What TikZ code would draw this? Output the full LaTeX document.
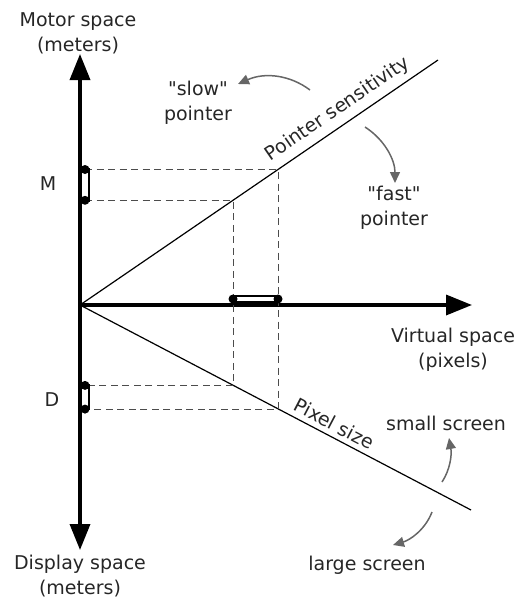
\documentclass[tikz,border=0pt]{standalone}
\usepackage{fontspec}
\setmainfont{DejaVu Sans}
\usetikzlibrary{arrows.meta}

\begin{document}
\begin{tikzpicture}[
  x=1pt, y=-1pt,
  axis/.style={line width=3.5pt, -{Triangle[width=20pt,length=26pt]}},
  dline/.style={dashed, line width=1pt, dash pattern=on 7pt off 4.5pt, black!70},
  bar/.style={line width=2.5pt, fill=white},
  dot/.style={circle, fill=black, inner sep=0pt, minimum size=9pt},
  turnarrow/.style={line width=1.5pt, black!60, -{Triangle[width=10pt,length=11pt]}},
  lbl/.style={font=\fontsize{19}{25}\selectfont, align=center, inner sep=0pt, text=black!85},
]
\useasboundingbox (0,0) rectangle (521,602);

% Axes
\coordinate (O) at (80,305);
\coordinate (top) at (80,54);
\coordinate (bot) at (80,550);
\coordinate (rgt) at (472,305);
\draw[axis] (O) -- (top);
\draw[axis] (O) -- (bot);
\draw[axis] (O) -- (rgt);

% Transfer lines
\coordinate (ps) at (438,60);
\coordinate (px) at (471,510);
\draw[line width=1.2pt] (O) -- node[pos=0.745, sloped, above=6pt, lbl] {Pointer sensitivity} (ps);
\draw[line width=1.2pt] (O) -- node[pos=0.635, sloped, above=5pt, lbl] {Pixel size} (px);

% Projections
\coordinate (s1) at (233,200.3);
\coordinate (s2) at (278,169.5);
\coordinate (p1) at (233,385.4);
\coordinate (p2) at (278,409.1);
\draw[dline] (85,169.5) -- (s2) -- (p2) -- (85,409.1);
\draw[dline] (85,200.3) -- (s1) -- (p1) -- (85,385.4);

% Bars
\draw[bar] (81,169.5) rectangle (89,200.3);
\node[dot] (m1) at (85,169.5) {};
\node[dot] (m2) at (85,200.3) {};
\draw[bar] (233,296) rectangle (278,302);
\node[dot] (v1) at (233,299) {};
\node[dot] (v2) at (278,299) {};
\draw[bar] (81,385.4) rectangle (89,409.1);
\node[dot] (d1) at (85,385.4) {};
\node[dot] (d2) at (85,409.1) {};

% Labels
\node[lbl] (motor) at (78,33) {Motor space\\(meters)};
\node[lbl] (disp) at (80,576) {Display space\\(meters)};
\node[lbl] (M) at (48,184) {M};
\node[lbl] (D) at (52,400) {D};
\node[lbl] (slow) at (198,103) {\textquotedbl slow\textquotedbl\\pointer};
\node[lbl] (fast) at (394,208) {\textquotedbl fast\textquotedbl\\pointer};
\node[lbl] (virt) at (453,350) {Virtual space\\(pixels)};
\node[lbl] (small) at (446,423) {small screen};
\node[lbl] (large) at (367,565) {large screen};

% Curved arrows
\coordinate (sa) at (310,90);
\coordinate (fa) at (365,127);
\coordinate (ssa) at (442,482);
\coordinate (lsa) at (432,512);
\draw[turnarrow] (sa) .. controls (290,75) and (265,72) .. (238,84);
\draw[turnarrow] (fa) .. controls (385,140) and (395,160) .. (395,183);
\draw[turnarrow] (ssa) .. controls (450,470) and (452,455) .. (449,438);
\draw[turnarrow] (lsa) .. controls (425,530) and (410,540) .. (393,545);
\end{tikzpicture}
\end{document}
